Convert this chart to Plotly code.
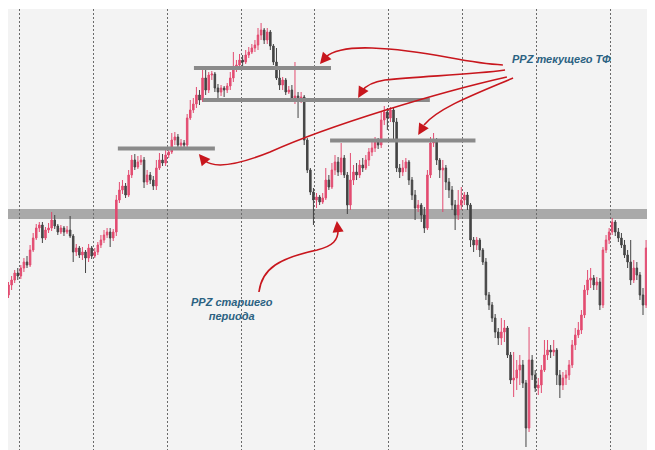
import plotly.graph_objects as go

# ---- data (price units, arbitrary scale) ----
opens = [155,165,170,177,174,182,188,185,200,212, 222,225,212,220,222,230,224,218,222,218,
         220,214,198,202,195,198,192,202,194,198, 205,210,215,218,212,218,250,260,264,255,
         275,290,283,288,290,268,275,270,264,282, 290,287,295,298,310,313,305,307,305,332,
         340,346,355,350,372,360,375,376,362,358, 362,360,364,372,382,385,390,388,395,398,
         402,405,415,420,410,418,404,388,372,365, 370,358,360,352,354,350,353,310,280,258,
         250,253,248,252,270,263,280,288,278,292, 275,245,270,278,275,285,282,290,298,302,
         308,305,330,338,332,340,328,282,278,282, 288,270,255,242,245,235,222,275,307,310,
         290,280,282,268,260,245,235,245,250,255, 245,210,205,210,200,188,155,145,132,118,
         112,118,122,95,70,72,80,85,67,22, 90,75,62,65,80,95,100,98,100,75,
         65,72,75,85,105,115,120,135,160,170, 172,165,168,145,200,210,218,228,218,212,
         205,195,188,170,182,175,155,145,202,215]
closes = [165,170,177,174,182,188,185,200,212,222, 225,212,220,222,230,224,218,222,218,220,
          214,198,202,195,198,192,202,194,198,205, 210,215,218,212,218,250,260,264,255,275,
          290,283,288,290,268,275,270,264,282,290, 287,295,298,310,313,305,307,305,332,340,
          346,355,350,372,360,375,376,362,358,362, 360,364,372,382,385,390,388,395,398,402,
          405,415,420,410,418,404,388,372,365,370, 358,360,352,354,350,353,310,280,258,250,
          253,248,252,270,263,280,288,278,292,275, 245,270,278,275,285,282,290,298,302,308,
          305,330,338,332,340,328,282,278,282,288, 270,255,242,245,235,222,275,307,310,290,
          280,282,268,260,245,235,245,250,255,245, 210,205,210,200,188,155,145,132,118,112,
          118,122,95,70,72,80,85,67,22,90, 75,62,65,80,95,100,98,100,75,65,
          72,75,85,105,115,120,135,160,170,172, 165,168,145,200,210,218,228,218,212,205,
          195,188,170,182,175,155,145,202,215,222]
highs = [168,174,180,182,185,192,194,205,217,226, 228,228,223,227,238,235,226,225,224,224,
         234,216,206,204,203,200,206,204,202,208, 215,220,222,222,221,255,268,270,267,280,
         295,296,294,295,293,280,278,274,290,297, 296,300,303,317,318,316,311,310,336,350,
         352,363,360,380,380,378,379,378,366,365, 364,367,378,398,390,396,395,400,403,406,
         410,422,427,422,422,420,406,402,382,373, 372,364,365,388,358,358,355,312,282,262,
         257,255,257,282,275,287,295,293,307,295, 278,297,285,287,290,292,295,302,310,313,
         312,338,344,342,343,343,332,286,290,292, 290,273,260,250,247,243,280,313,317,312,
         292,290,285,272,264,250,260,263,258,258, 247,213,213,212,202,192,158,148,136,122,
         132,130,124,98,98,90,95,90,70,123, 95,80,72,85,110,110,105,110,102,80,
         78,80,90,110,122,128,140,165,180,182, 175,173,172,203,215,222,232,230,222,217,
         210,200,210,190,188,178,162,210,224,226]
lows = [152,160,167,170,171,178,182,183,198,210, 218,207,210,217,219,221,215,216,214,216,
        212,188,194,192,190,177,188,191,192,195, 202,207,212,203,209,214,247,256,252,253,
        272,280,281,285,262,265,266,260,260,280, 284,284,292,296,305,302,303,302,303,330,
        337,342,345,348,355,357,370,358,352,354, 353,357,360,368,378,382,384,386,392,396,
        398,400,410,406,406,400,385,370,360,360, 355,356,349,346,332,347,305,277,255,225,
        242,245,246,250,260,261,275,274,275,272, 236,240,265,270,272,278,280,284,294,298,
        301,302,325,320,328,310,278,272,274,278, 265,250,230,238,228,217,220,272,303,285,
        272,238,260,252,240,220,230,240,245,240, 203,198,200,193,185,150,140,128,112,105,
        105,108,92,66,53,60,65,62,3,18, 70,58,55,57,78,90,92,94,65,52,
        60,65,70,82,100,112,116,132,155,162, 160,160,140,142,197,206,215,214,208,202,
        192,182,165,167,170,150,135,142,198,210]
bars = list(range(len(closes)))

# period separators (every 24 bars)
period_marks = [3.5, 27.5, 51.5, 75.5, 99.5, 123.5, 147.5, 171.5, 195.5]

# higher-timeframe zone (price band)
htf_zone = [231, 241]
# current-timeframe levels: (price, first bar, last bar)
ppz_levels = [(382, 60.2, 104.7), (350, 63.1, 136.8), (301.5, 35.5, 67.0), (309.5, 104.4, 151.6)]

label_current = "PPZ текущего ТФ"
label_higher = "PPZ старшего<br>периода"

PINK = "#e3446b"
DARK = "#3c3c3c"
RED = "#c8161d"
TXT = "#2b6282"

fig = go.Figure(go.Candlestick(
    x=bars, open=opens, high=highs, low=lows, close=closes,
    increasing=dict(line=dict(color=PINK, width=1), fillcolor=PINK),
    decreasing=dict(line=dict(color=DARK, width=1), fillcolor=DARK),
    whiskerwidth=0, hoverinfo="skip", opacity=0.95,
))

shapes = [dict(type="rect", xref="paper", x0=0, x1=1, yref="y", y0=htf_zone[0], y1=htf_zone[1],
               fillcolor="#a4a4a4", line=dict(width=0), layer="between", opacity=0.95)]
for lvl, a, b in ppz_levels:
    shapes.append(dict(type="line", xref="x", yref="y", x0=a, x1=b, y0=lvl, y1=lvl,
                       line=dict(color="#8a8a8a", width=4), layer="above"))

arrow_paths = [
    "M 160.5,385 C 146.6,387 136.8,400 118.0,402 C 109.2,403 104.7,398 103.1,393",
    "M 161.2,380 C 149.8,375 133.6,374 122.2,370 C 118.0,368 115.7,363 114.8,359",
    "M 161.8,373 C 140.1,358 104.4,325 84.9,298 C 75.2,286 67.0,280 63.5,290",
    "M 163.8,372 C 151.5,356 139.4,342 134.9,325",
    "M 81.3,158 C 82.3,182 88.1,192 100.2,200 C 105.4,204 107.0,210 107.0,220",
]
for p in arrow_paths:
    shapes.append(dict(type="path", xref="x", yref="y", path=p,
                       line=dict(color=RED, width=1.6), layer="above"))

arrow_tips = [(101.1, 386, 6, -7), (113.5, 352, 4, -7), (61.8, 296, 5, 6),
              (133.0, 315, 6, -10), (106.6, 229, 1, 9)]
annotations = []
for x, y, ax, ay in arrow_tips:
    annotations.append(dict(x=x, y=y, xref="x", yref="y", ax=ax, ay=ay, text="",
                            showarrow=True, arrowhead=2, arrowsize=1.4, arrowwidth=1.6,
                            arrowcolor=RED))

font_lbl = dict(family="Liberation Sans, Arial, sans-serif", size=11, color=TXT,
                weight="bold", style="italic")
annotations.append(dict(x=179.4, y=391, xref="x", yref="y", text=label_current,
                        showarrow=False, font=font_lbl, xanchor="center", yanchor="middle"))
annotations.append(dict(x=72.6, y=141, xref="x", yref="y", text=label_higher,
                        showarrow=False, font=font_lbl, xanchor="center", yanchor="middle"))

fig.update_layout(
    width=655, height=450,
    margin=dict(l=0, r=0, t=1, b=0, pad=0),
    paper_bgcolor="white", plot_bgcolor="#f3f3f3",
    showlegend=False,
    shapes=shapes, annotations=annotations,
    xaxis=dict(range=[-0.17, 212.49], tickvals=period_marks, showticklabels=False, ticks="",
               showgrid=True, gridcolor="#6a6a6a", gridwidth=1, griddash="2px,2px",
               zeroline=False, rangeslider=dict(visible=False), showline=False),
    yaxis=dict(range=[-8, 441], showgrid=False, showticklabels=False, ticks="",
               zeroline=False, showline=False),
)

fig.write_html("out.html")
